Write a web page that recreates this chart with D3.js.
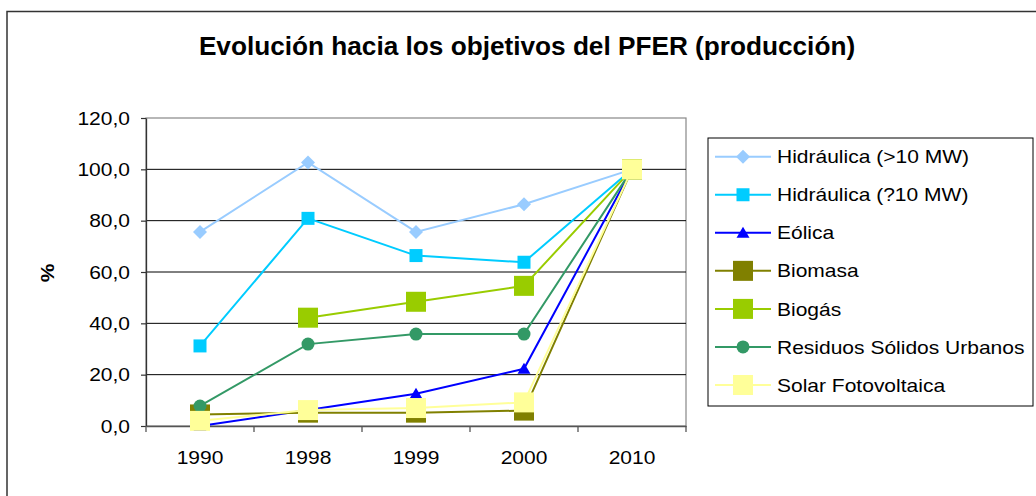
<!DOCTYPE html>
<html><head><meta charset="utf-8">
<script src="https://cdn.jsdelivr.net/npm/d3@7"></script>
<style>body{margin:0;background:#fff}svg{display:block}</style>
</head><body><svg id="c" width="1036" height="496"></svg>
<script>
// ---- data ----
const years = ["1990", "1998", "1999", "2000", "2010"];
const yTicks = [0, 20, 40, 60, 80, 100, 120];
const seriesNames = ["Hidráulica (>10 MW)", "Hidráulica (?10 MW)", "Eólica", "Biomasa", "Biogás", "Residuos Sólidos Urbanos", "Solar Fotovoltaica"];
const hidrGrande = [75.6, 102.7, 75.6, 86.4, 100];
const hidrPeq    = [31.2, 80.9, 66.4, 63.8, 100];
const eolica     = [0.0, 6.2, 12.6, 22.3, 100];
const biomasa    = [4.5, 5.2, 5.2, 6.0, 100];
const biogas     = [null, 42.2, 48.4, 54.6, 100];
const rsu        = [7.8, 31.9, 35.8, 35.8, 100];
const solar      = [2.0, 6.2, 7.0, 9.2, 100];

const seriesValues = [hidrGrande, hidrPeq, eolica, biomasa, biogas, rsu, solar];
const colors = ["#99CCFF", "#00CCFF", "#0000FF", "#808000", "#99CC00", "#339966", "#FFFF99"];
const shapes = ["diamond", "square", "triangle", "bigsquare", "bigsquare", "circle", "bigsquare"];

// ---- layout ----
const svg = d3.select("#c");
const FONT = "'Liberation Sans', Arial, sans-serif";
const SX = 1.13; // horizontal stretch of the original rendering
const FS = 18.6;
const plot = {l: 146, r: 686, t: 118, b: 426};

const x = d3.scaleBand().domain(years).range([plot.l, plot.r]);
const y = d3.scaleLinear().domain([0, 120]).range([plot.b, plot.t]);

function label(parent, px, py, str, anchor, opts = {}) {
  const sx = opts.sx || SX;
  const g = parent.append("g").attr("transform", `translate(${px},${py}) ${opts.rotate ? "rotate(" + opts.rotate + ")" : ""} scale(${sx},1)`);
  g.append("text").attr("x", 0).attr("y", 0)
    .attr("text-anchor", anchor)
    .attr("font-family", FONT)
    .attr("font-size", opts.size || FS)
    .attr("font-weight", opts.bold ? "bold" : "normal")
    .attr("fill", "#000")
    .text(str);
  return g;
}

// outer frame
svg.append("rect").attr("x", 7).attr("y", 11.5).attr("width", 1200).attr("height", 700)
  .attr("fill", "#fff").attr("stroke", "#333").attr("stroke-width", 1.5);

// title
label(svg, 527, 55, "Evolución hacia los objetivos del PFER (producción)", "middle", {bold: true, size: 25, sx: 1.048});

// plot area border
svg.append("rect").attr("x", plot.l).attr("y", plot.t).attr("width", plot.r - plot.l).attr("height", plot.b - plot.t)
  .attr("fill", "#fff").attr("stroke", "#888").attr("stroke-width", 1.2);

// gridlines
svg.append("g").selectAll("line").data(yTicks.filter(d => d > 0 && d < 120)).join("line")
  .attr("x1", plot.l).attr("x2", plot.r).attr("y1", d => y(d)).attr("y2", d => y(d))
  .attr("stroke", "#000").attr("stroke-width", 1);

// y axis
const yAxis = svg.append("g").attr("transform", `translate(${plot.l},0)`)
  .call(d3.axisLeft(y).tickValues(yTicks).tickSize(5).tickSizeOuter(0).tickFormat(""));
yAxis.select(".domain").attr("stroke", "#333").attr("stroke-width", 1.3);
yAxis.selectAll(".tick line").attr("stroke", "#333").attr("stroke-width", 1.2);
yTicks.forEach(t => label(svg, 130, y(t) + 6.6, t.toFixed(1).replace(".", ","), "end"));

// x axis
const xAxis = svg.append("g").attr("transform", `translate(0,${plot.b})`)
  .call(d3.axisBottom(x).tickSize(0).tickFormat(""));
xAxis.select(".domain").attr("stroke", "#555").attr("stroke-width", 1.5);
const bounds = years.map(d => x(d)).concat([plot.r]);
svg.append("g").selectAll("line").data(bounds).join("line")
  .attr("x1", d => d).attr("x2", d => d).attr("y1", plot.b).attr("y2", plot.b + 6)
  .attr("stroke", "#555").attr("stroke-width", 1.3);
years.forEach(yr => label(svg, x(yr) + x.bandwidth() / 2, 463.5, yr, "middle"));

// y title
label(svg, 54, 273, "%", "middle", {bold: true, rotate: -90});

// markers
function marker(g, shape, cx, cy, color) {
  if (shape === "diamond") {
    g.append("path").attr("d", `M${cx},${cy - 7}L${cx + 7},${cy}L${cx},${cy + 7}L${cx - 7},${cy}Z`).attr("fill", color);
  } else if (shape === "square") {
    g.append("rect").attr("x", cx - 6.5).attr("y", cy - 6.5).attr("width", 13).attr("height", 13).attr("fill", color);
  } else if (shape === "bigsquare") {
    g.append("rect").attr("x", cx - 10).attr("y", cy - 10).attr("width", 20).attr("height", 20).attr("fill", color);
  } else if (shape === "triangle") {
    g.append("path").attr("d", `M${cx},${cy - 6}L${cx + 6.5},${cy + 5}L${cx - 6.5},${cy + 5}Z`).attr("fill", color);
  } else if (shape === "circle") {
    g.append("circle").attr("cx", cx).attr("cy", cy).attr("r", 6.5).attr("fill", color);
  }
}

const line = d3.line()
  .defined(d => d.v !== null)
  .x(d => x(d.k) + x.bandwidth() / 2)
  .y(d => y(d.v));

seriesValues.forEach((vals, i) => {
  const pts = years.map((k, j) => ({k, v: vals[j]}));
  const g = svg.append("g");
  g.append("path").datum(pts).attr("d", line).attr("fill", "none")
    .attr("stroke", colors[i]).attr("stroke-width", 2);
  pts.filter(p => p.v !== null).forEach(p =>
    marker(g, shapes[i], x(p.k) + x.bandwidth() / 2, y(p.v), colors[i]));
});

// legend
const leg = svg.append("g");
leg.append("rect").attr("x", 708).attr("y", 138).attr("width", 325).attr("height", 268)
  .attr("fill", "#fff").attr("stroke", "#000").attr("stroke-width", 1);
seriesNames.forEach((name, i) => {
  const cy = 156.7 + i * 38.05;
  leg.append("line").attr("x1", 715).attr("x2", 771).attr("y1", cy).attr("y2", cy)
    .attr("stroke", colors[i]).attr("stroke-width", 2);
  marker(leg, shapes[i], 743, cy, colors[i]);
  label(leg, 777, cy + 6.6, name, "start");
});
</script>
</body></html>
